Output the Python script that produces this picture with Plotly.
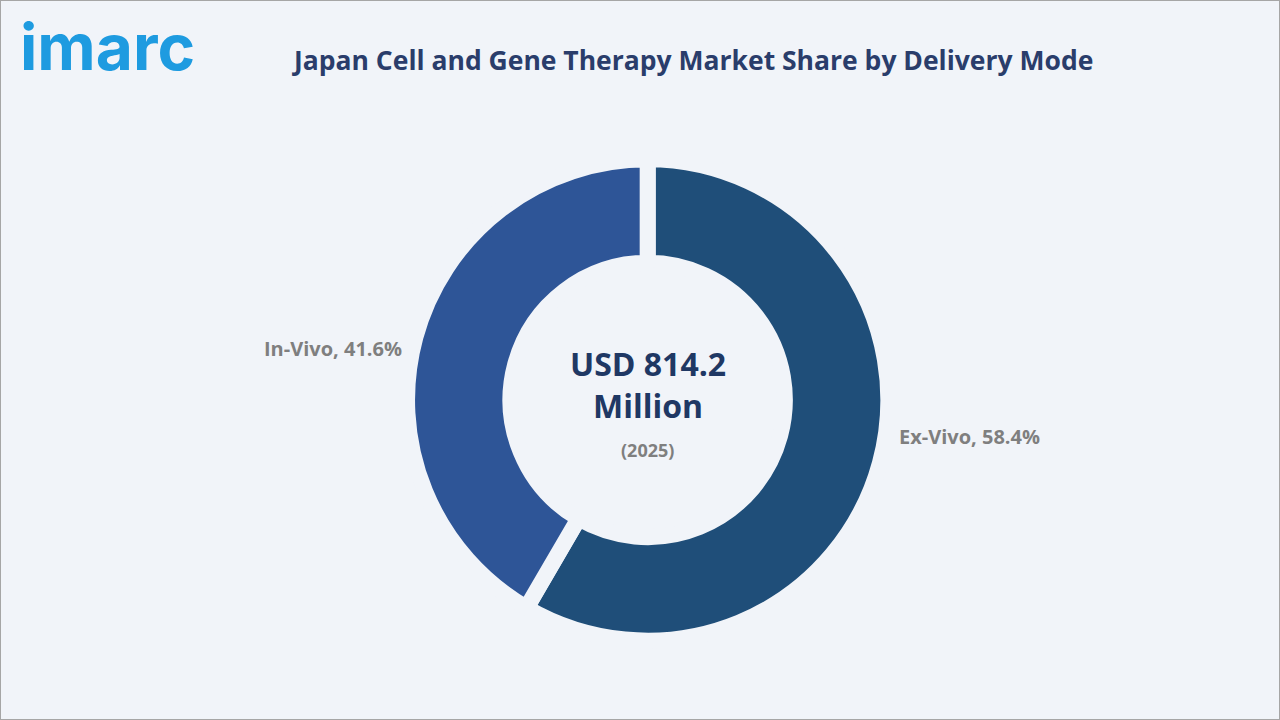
import plotly.graph_objects as go

modes = ['Ex-Vivo', 'In-Vivo']
shares = [58.4, 41.6]
colors = ['#1f4e79', '#2e5597']
total_text = 'USD 814.2<br>Million'
year_text = '(2025)'
title = 'Japan Cell and Gene Therapy Market Share by Delivery Mode'

bg = '#f1f4f9'
W, H = 1280, 720

fig = go.Figure()
fig.add_trace(go.Pie(
    labels=modes, values=shares, sort=False, direction='clockwise', rotation=0,
    hole=0.57,
    marker=dict(colors=colors, line=dict(color=bg, width=16)),
    textinfo='none',
    domain=dict(x=[0.318, 0.694], y=[0.11, 0.779]),
    showlegend=False, hoverinfo='label+percent',
))

# slice labels placed beside the ring (screen px centres)
label_pos = {'In-Vivo': (333, 348), 'Ex-Vivo': (969, 437)}
for m, v in zip(modes, shares):
    px, py = label_pos[m]
    fig.add_annotation(x=px / W, y=1 - py / H, xref='paper', yref='paper',
                       xanchor='center', yanchor='middle', showarrow=False,
                       text=f'<b>{m}, {v}%</b>',
                       font=dict(family='Open Sans', size=20, color='#7f7f7f'))

fig.add_annotation(x=0.506, y=1 - 384 / H, xref='paper', yref='paper', yanchor='middle',
                   text='<b>' + total_text + '</b>', showarrow=False,
                   font=dict(family='Open Sans', size=32, color='#1f3864'))
fig.add_annotation(x=0.506, y=1 - 450 / H, xref='paper', yref='paper', yanchor='middle',
                   text='<b>' + year_text + '</b>', showarrow=False,
                   font=dict(family='Open Sans', size=18, color='#7f7f7f'))
fig.add_annotation(x=692 / W, y=1 - 60 / H, xref='paper', yref='paper', yanchor='middle',
                   text='<b>' + title + '</b>', showarrow=False,
                   font=dict(family='Open Sans', size=26.5, color='#2a3d6b'))
fig.add_annotation(x=0.014, y=1 - 46 / H, xref='paper', yref='paper', xanchor='left',
                   yanchor='middle', text='<b>imarc</b>', showarrow=False,
                   font=dict(family='Inter', size=64, color='#1e9be0'))

fig.update_layout(
    width=W, height=H, margin=dict(l=0, r=0, t=0, b=0),
    paper_bgcolor=bg, plot_bgcolor=bg,
    shapes=[dict(type='rect', xref='paper', yref='paper', x0=0, y0=0, x1=1, y1=1,
                 line=dict(color='#a6a6a6', width=2))],
)
fig.write_html('out.html', config={'displayModeBar': False},
               post_script="document.body.style.margin='0';")
